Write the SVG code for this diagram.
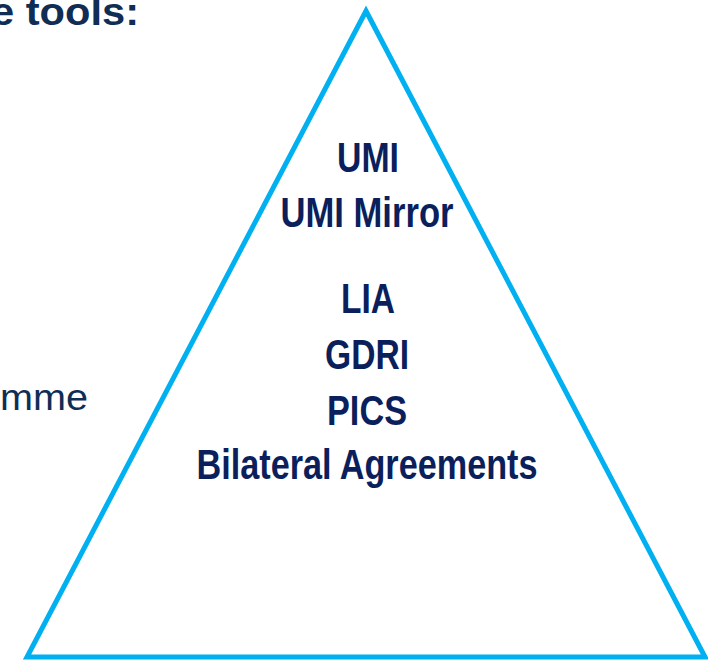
<svg xmlns="http://www.w3.org/2000/svg" width="708" height="660" viewBox="0 0 708 660">
<style>
.lbl{font-family:"Liberation Sans Narrow","Liberation Sans",Arial,sans-serif;font-weight:bold;font-size:43px;fill:#0b1f5c;text-anchor:middle}
.side{font-family:"Liberation Sans",Arial,sans-serif;fill:#0f2d55}
</style>
<rect width="708" height="660" fill="#ffffff"/>
<g id="title"><text class="side" x="-9" y="25" font-size="39" font-weight="bold" fill="#0b1f5c" textLength="148" lengthAdjust="spacingAndGlyphs">e tools:</text></g>
<g id="side-text"><text class="side" x="0" y="410" font-size="37" textLength="88" lengthAdjust="spacingAndGlyphs">mme</text></g>
<g id="pyramid">
<polygon points="366,11 27,657 705,657" fill="none" stroke="#00b0f0" stroke-width="5" stroke-linejoin="miter"/>
<text class="lbl" x="368" y="172" textLength="62" lengthAdjust="spacingAndGlyphs">UMI</text>
<text class="lbl" x="367" y="227" textLength="173" lengthAdjust="spacingAndGlyphs">UMI Mirror</text>
<text class="lbl" x="368" y="313" textLength="54" lengthAdjust="spacingAndGlyphs">LIA</text>
<text class="lbl" x="367" y="369" textLength="84" lengthAdjust="spacingAndGlyphs">GDRI</text>
<text class="lbl" x="367" y="425" textLength="80" lengthAdjust="spacingAndGlyphs">PICS</text>
<text class="lbl" x="367" y="479" textLength="341" lengthAdjust="spacingAndGlyphs">Bilateral Agreements</text>
</g>
</svg>
